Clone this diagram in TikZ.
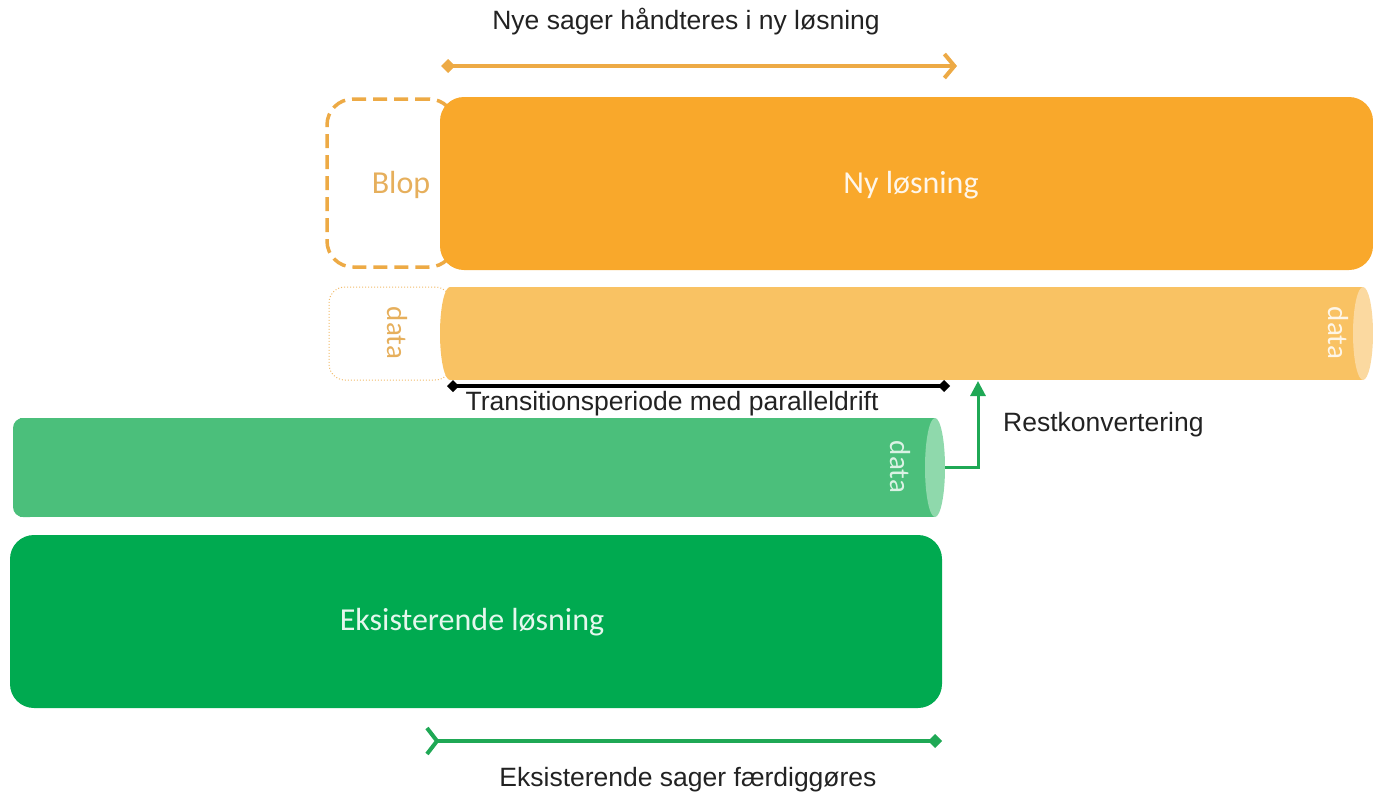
\documentclass[tikz,border=0pt]{standalone}
\usepackage{fontspec}
\setmainfont{Liberation Sans}
\newfontfamily\calfont{Carlito}
\usetikzlibrary{arrows.meta}
\definecolor{orM}{HTML}{F9A82B}
\definecolor{orL}{HTML}{F9C263}
\definecolor{orCap}{HTML}{FBD9A0}
\definecolor{orLine}{HTML}{EDAA45}
\definecolor{orText}{HTML}{E6AF5C}
\definecolor{grM}{HTML}{00AA50}
\definecolor{grL}{HTML}{4BBF7B}
\definecolor{grCap}{HTML}{8FD9AC}
\definecolor{grLine}{HTML}{1FA855}
\definecolor{txt}{HTML}{222222}
\tikzset{
  solidbox/.style={rounded corners=24pt, inner sep=0pt, outer sep=0pt},
  lbl/.style={inner sep=0pt, text=txt, font=\fontsize{26.5}{30}\selectfont},
  inlbl/.style={inner sep=0pt, font=\calfont\fontsize{32}{36}\selectfont},
  datalbl/.style={inner sep=0pt, rotate=-90, font=\calfont\fontsize{29}{32}\selectfont},
}
\begin{document}
\begin{tikzpicture}[x=1pt,y=-1pt]
\useasboundingbox (0,0) rectangle (1373,798);

% top label and arrow
\node[lbl] (toplbl) at (686,22) {Nye sager håndteres i ny løsning};
\coordinate (oaS) at (441,66);
\coordinate (oaE) at (957,66);
\draw[orLine, line width=4pt, {Diamond[length=14pt,width=14pt]}-{Straight Barb[length=10pt,width=24pt,line width=4pt]}] (oaS) -- (oaE);

% Blop dashed box
\node[draw=orLine, dashed, dash pattern=on 14pt off 7pt, line width=3.5pt, rounded corners=26pt, minimum width=128pt, minimum height=168pt, inner sep=0pt] (blop) at (391,183) {};
% Ny løsning
\node[solidbox, fill=orM, minimum width=933pt, minimum height=173pt] (ny) at (906.5,183.5) {};
\node[inlbl, text=white!90!orM] (nytxt) at (911,185) {Ny løsning};
\node[inlbl, text=orText] (bloptxt) at (401,185) {Blop};

% data dotted box (left)
\node[draw=orLine!80, dotted, line width=1pt, rounded corners=16pt, minimum width=122pt, minimum height=93pt, inner sep=0pt] (dleft) at (390,333.5) {};
\node[datalbl, text=orText] (dlefttxt) at (397,333) {data};

% orange cylinder
\fill[orL] (450,287) rectangle (1363,380);
\fill[orL] (450,333.5) ellipse [x radius=10, y radius=46.5];
\fill[orCap] (1363,333.5) ellipse [x radius=10, y radius=46.5];
\node[datalbl, text=white!85!orL] (odtxt) at (1338,333) {data};
\coordinate (ocylB) at (978,381);

% transition line
\coordinate (tS) at (447,386);
\coordinate (tE) at (950,386);
\draw[black, line width=4pt, {Diamond[length=12pt,width=12pt]}-{Diamond[length=12pt,width=12pt]}] (tS) -- (tE);
\node[lbl] (ttxt) at (672,404) {Transitionsperiode med paralleldrift};

% green cylinder
\fill[grL] (20,418) rectangle (935,517);
\fill[grL, rounded corners=10pt] (13,418) rectangle (40,517);
\fill[grCap] (935,467.5) ellipse [x radius=10, y radius=49.5];
\node[datalbl, text=white!80!grL] (gdtxt) at (900,467) {data};
\coordinate (gcylR) at (945,467);

% Restkonvertering connector
\draw[grLine, line width=3pt, -{Triangle[length=15pt,width=15pt]}] (gcylR) -| (ocylB);
\node[lbl, anchor=west] (rktxt) at (1003,425) {Restkonvertering};

% existing solution
\node[solidbox, fill=grM, minimum width=932pt, minimum height=173pt] (eks) at (476,621.5) {};
\node[inlbl, text=white!90!grM] (ekstxt) at (472,622) {Eksisterende løsning};

% bottom arrow
\coordinate (gaS) at (425,741);
\coordinate (gaE) at (942,741);
\draw[grLine, line width=4pt, {Straight Barb[reversed,length=10pt,width=26pt,line width=4pt]}-{Diamond[length=14pt,width=14pt]}] (gaS) -- (gaE);
\node[lbl] (bottxt) at (688,780) {Eksisterende sager færdiggøres};
\end{tikzpicture}
\end{document}
